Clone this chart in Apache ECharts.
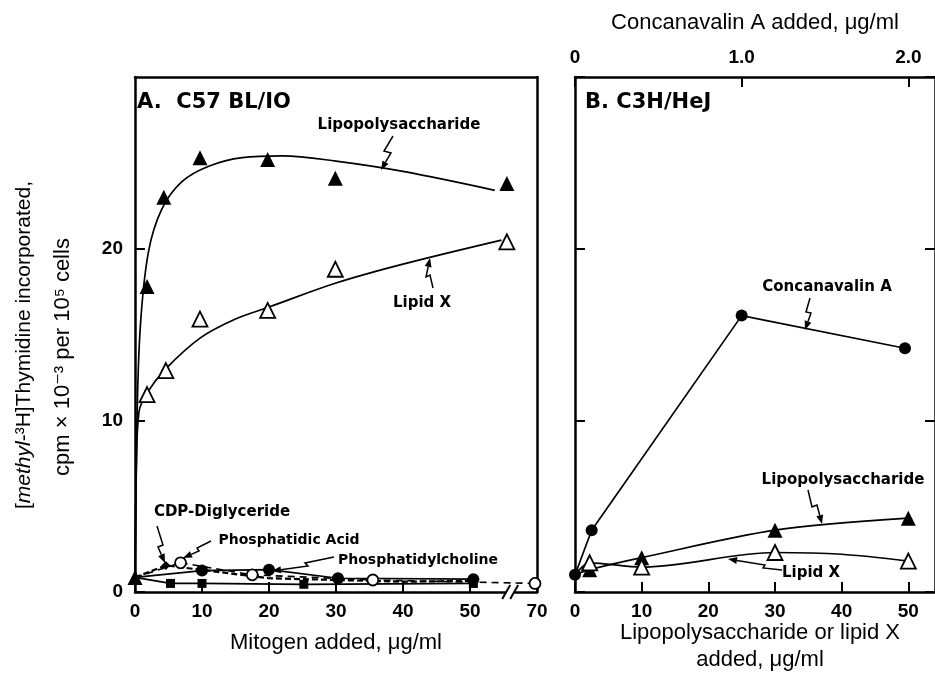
<!DOCTYPE html>
<html>
<head>
<meta charset="utf-8">
<script src="https://cdn.jsdelivr.net/npm/echarts/dist/echarts.min.js"></script>
<style>
  html, body { margin: 0; padding: 0; background: #fff; }
  #chart { width: 935px; height: 683px; }
</style>
</head>
<body>
<div id="chart"></div>
<script>
// panel A (C57 BL/10), x in ug/ml as plotted (the "70" point sits past the axis break)
var aLpsPts = [[0, 0.85], [1.8, 17.8], [4.3, 23.0], [9.7, 25.3], [19.8, 25.2], [29.9, 24.1], [55.5, 23.8]];
var aLpsCurve = [[0, 0.85], [0.3, 10], [0.8, 15.5], [2, 19.8], [4, 22.3], [7, 23.9], [11, 24.8], [16, 25.3],
  [22, 25.4], [30, 25.1], [40, 24.5], [53.7, 23.4]];
var aLipidXPts = [[1.8, 11.5], [4.6, 12.9], [9.7, 15.9], [19.8, 16.4], [29.9, 18.8], [55.5, 20.4]];
var aLipidXCurve = [[0, 0.85], [0.2, 7], [0.6, 10.5], [1.8, 11.6], [4.6, 13.0], [9.75, 14.8], [15, 15.9],
  [20, 16.6], [30, 18.0], [40, 19.1], [54.7, 20.5]];
var aPaPts = [[0, 0.85], [6.8, 1.7], [17.5, 1.0], [35.5, 0.7], [59.7, 0.5]];
var aPcPts = [[0, 0.85], [10, 1.25], [20, 1.3], [30.3, 0.8], [50.5, 0.75]];
var aCdpLine = [[0, 0.85], [4.6, 1.55], [20, 0.8], [40, 0.6], [50.5, 0.65]];
var aCdpMarks = [[4.6, 1.55]];
var aSqPts = [[0, 0.85], [5.3, 0.5], [10, 0.5], [25.2, 0.45], [50.5, 0.5]];

// panel B (C3H/HeJ)
var bConAPts = [[0, 1.0], [0.1, 3.6], [1.0, 16.1], [1.98, 14.2]];   // top axis, ug/ml
var bLpsPts = [[2.2, 1.3], [10, 2.0], [30, 3.6], [50, 4.3]];
var bLpsLine = [[0, 1.0], [2.2, 1.3], [10, 2.0], [30, 3.6], [50, 4.3]];
var bLipidXPts = [[2.2, 1.7], [10, 1.45], [30, 2.3], [50, 1.8]];
var bLipidXLine = [[0, 1.0], [2.2, 1.7], [10, 1.45], [30, 2.3], [40, 2.2], [50, 1.8]];

var yTicks = [0, 10, 20];
var aXTickLabels = { 0: '0', 10: '10', 20: '20', 30: '30', 40: '40', 50: '50', 60: '70' };

var FONT = 'Liberation Sans, DejaVu Sans, sans-serif';
var INK = '#000';
var B_MAX = 54;

var chart = echarts.init(document.getElementById('chart'));

function axisLine() {
  return { show: true, onZero: false, lineStyle: { color: INK, width: 2.5 } };
}
function ticks(show) {
  return { show: show, inside: true, length: 10, lineStyle: { color: INK, width: 2 } };
}
var tickLabel = { color: INK, fontSize: 19, fontFamily: FONT, fontWeight: 'bold' };
var nameStyle = { color: INK, fontSize: 22, fontFamily: FONT };

function lineS(name, xi, yi, data, opts) {
  return Object.assign({
    name: name, type: 'line', xAxisIndex: xi, yAxisIndex: yi, data: data,
    symbol: 'none', lineStyle: { color: INK, width: 1.7 }, z: 2, silent: true
  }, opts || {});
}
function dots(name, xi, yi, data, symbol, size, hollow) {
  return {
    name: name, type: 'scatter', xAxisIndex: xi, yAxisIndex: yi, data: data,
    symbol: symbol, symbolSize: size, z: 5, silent: true,
    itemStyle: hollow ? { color: '#fff', borderColor: INK, borderWidth: 1.8, opacity: 1 } : { color: INK, opacity: 1 }
  };
}

var option = {
  animation: false,
  backgroundColor: '#fff',
  grid: [
    { left: 135, top: 77, width: 402, height: 515 },
    { left: 575, top: 77, width: 364, height: 515 }
  ],
  xAxis: [
    { gridIndex: 0, type: 'value', min: 0, max: 60, interval: 10, position: 'bottom',
      axisLine: axisLine(), axisTick: ticks(true), splitLine: { show: false },
      axisLabel: Object.assign({ margin: 10, showMaxLabel: true,
        formatter: function (v) { return aXTickLabels[v] || ''; } }, tickLabel),
      name: 'Mitogen added, \u03bcg/ml', nameLocation: 'middle', nameGap: 40, nameTextStyle: nameStyle },
    { gridIndex: 0, type: 'value', min: 0, max: 60, position: 'top',
      axisLine: axisLine(), axisTick: { show: false }, axisLabel: { show: false }, splitLine: { show: false } },
    { gridIndex: 1, type: 'value', min: 0, max: B_MAX, interval: 10, position: 'bottom',
      axisLine: axisLine(), axisTick: ticks(true), splitLine: { show: false },
      axisLabel: Object.assign({ margin: 10, showMaxLabel: false }, tickLabel),
      name: 'Lipopolysaccharide or lipid X\nadded, \u03bcg/ml', nameLocation: 'middle', nameGap: 27,
      nameMoveOverlap: false,
      nameTextStyle: Object.assign({ lineHeight: 27, verticalAlign: 'top', padding: [0, 0, 0, 10] }, nameStyle) },
    { gridIndex: 1, type: 'value', min: 0, max: B_MAX / 25, interval: 1, position: 'top',
      axisLine: axisLine(), axisTick: ticks(true), splitLine: { show: false },
      axisLabel: Object.assign({ margin: 10, showMaxLabel: false,
        formatter: function (v) { return v === 0 ? '0' : v.toFixed(1); } }, tickLabel),
      name: 'Concanavalin A added, \u03bcg/ml', nameLocation: 'middle', nameGap: 43, nameTextStyle: nameStyle }
  ],
  yAxis: [
    { gridIndex: 0, type: 'value', min: 0, max: 30, interval: 10, position: 'left',
      axisLine: axisLine(), axisTick: ticks(true), splitLine: { show: false },
      axisLabel: Object.assign({ margin: 12, showMaxLabel: false,
        formatter: function (v) { return yTicks.indexOf(v) >= 0 ? String(v) : ''; } }, tickLabel) },
    { gridIndex: 0, type: 'value', min: 0, max: 30, position: 'right',
      axisLine: axisLine(), axisTick: { show: false }, axisLabel: { show: false }, splitLine: { show: false } },
    { gridIndex: 1, type: 'value', min: 0, max: 30, interval: 10, position: 'left',
      axisLine: axisLine(), axisTick: ticks(true), axisLabel: { show: false }, splitLine: { show: false } },
    { gridIndex: 1, type: 'value', min: 0, max: 30, interval: 10, position: 'right',
      axisLine: axisLine(), axisTick: ticks(true), axisLabel: { show: false }, splitLine: { show: false } }
  ],
  series: [
    lineS('LPS curve A', 0, 0, aLpsCurve, { smooth: 0.35 }),
    lineS('Lipid X curve A', 0, 0, aLipidXCurve, { smooth: 0.35 }),
    lineS('Phosphatidic Acid', 0, 0, aPaPts, { lineStyle: { color: INK, width: 1.6, type: [7, 5] } }),
    lineS('Phosphatidylcholine', 0, 0, aPcPts),
    lineS('CDP-Diglyceride', 0, 0, aCdpLine, { lineStyle: { color: INK, width: 2.2, type: [6, 3] } }),
    lineS('Squares', 0, 0, aSqPts),
    dots('LPS A', 0, 0, aLpsPts, 'triangle', 15, false),
    dots('Lipid X A', 0, 0, aLipidXPts, 'triangle', 15, true),
    dots('Phosphatidic Acid pts', 0, 0, aPaPts.slice(1), 'circle', 11, true),
    dots('Phosphatidylcholine pts', 0, 0, aPcPts.slice(1), 'circle', 12, false),
    dots('CDP-Diglyceride pts', 0, 0, aCdpMarks, 'diamond', 9, false),
    dots('Squares pts', 0, 0, aSqPts.slice(1), 'rect', 9, false),

    lineS('Concanavalin A', 3, 2, bConAPts),
    lineS('LPS line B', 2, 2, bLpsLine, { smooth: 0.3 }),
    lineS('Lipid X line B', 2, 2, bLipidXLine, { smooth: 0.3 }),
    dots('Concanavalin A pts', 3, 2, bConAPts, 'circle', 12, false),
    dots('LPS B', 2, 2, bLpsPts, 'triangle', 15, false),
    dots('Lipid X B', 2, 2, bLipidXPts, 'triangle', 15, true)
  ]
};
chart.setOption(option);

// annotations: labels and lightning-style pointer arrows
function label(text, x, y, size, weight, align) {
  return { type: 'text', x: x, y: y, z: 20, silent: true,
    style: { text: text, fill: INK, font: (weight || 'bold') + ' ' + (size || 15) + 'px DejaVu Sans, sans-serif',
      align: align || 'center', verticalAlign: 'middle' } };
}
function arrow(pts) {
  var n = pts.length, p = pts[n - 1], q = pts[n - 2];
  var ang = Math.atan2(p[1] - q[1], p[0] - q[0]);
  var L = 9, W = 3.5;
  var bx = p[0] - L * Math.cos(ang), by = p[1] - L * Math.sin(ang);
  var head = [p, [bx + W * Math.sin(ang), by - W * Math.cos(ang)], [bx - W * Math.sin(ang), by + W * Math.cos(ang)]];
  return [
    { type: 'polyline', z: 20, silent: true, shape: { points: pts.slice(0, n - 1).concat([[bx, by]]) },
      style: { stroke: INK, lineWidth: 1.5, fill: null } },
    { type: 'polygon', z: 20, silent: true, shape: { points: head }, style: { fill: INK } }
  ];
}

var g = [
  label('A.  C57 BL/IO', 137, 103, 21, 'bold', 'left'),
  label('B. C3H/HeJ', 585, 103, 21, 'bold', 'left'),
  label('Lipopolysaccharide', 399, 125, 15),
  label('Lipid X', 422, 303, 15),
  label('Concanavalin A', 827, 287, 15),
  label('Lipopolysaccharide', 843, 480, 15),
  label('Lipid X', 811, 573, 15),
  label('CDP-Diglyceride', 222, 512, 15),
  label('Phosphatidic Acid', 289, 540, 14),
  label('Phosphatidylcholine', 418, 560, 14),
  { type: 'text', x: 24, y: 345, rotation: Math.PI / 2, z: 20, silent: true,
    style: { text: '[{i|methyl}-\u00b3H]Thymidine incorporated,', fill: INK, align: 'center', verticalAlign: 'middle',
      font: '21px Liberation Sans, DejaVu Sans, sans-serif',
      rich: { i: { fontStyle: 'italic', fontSize: 21, fontFamily: 'Liberation Sans', fill: INK } } } },
  { type: 'text', x: 63, y: 357, rotation: Math.PI / 2, z: 20, silent: true,
    style: { text: 'cpm \u00d7 10\u207b\u00b3 per 10\u2075 cells', fill: INK, align: 'center', verticalAlign: 'middle',
      font: '22px Liberation Sans, DejaVu Sans, sans-serif' } }
];
[
  [[393, 136], [384, 151], [391, 153], [381, 170]],
  [[433, 288], [430, 275], [426, 277], [430, 258]],
  [[810, 298], [806, 312], [811, 313], [805, 330]],
  [[808, 490], [812, 507], [817, 505], [822, 524]],
  [[782, 570], [763, 568], [765, 565], [728, 559]],
  [[157, 526], [163, 545], [158, 547], [165, 563]],
  [[211, 541], [197, 548], [199, 551], [183, 558]],
  [[334, 557], [305, 563], [308, 566], [272, 571]]
].forEach(function (pts) { g = g.concat(arrow(pts)); });

// axis break on panel A's x axis, placed from the data scale
var brk = chart.convertToPixel({ xAxisIndex: 0, yAxisIndex: 0 }, [56, 0]);
g.push({ type: 'rect', z: 21, silent: true, shape: { x: brk[0] - 4, y: brk[1] - 4, width: 8, height: 8 }, style: { fill: '#fff' } });
[-4, 4].forEach(function (d) {
  g.push({ type: 'line', z: 22, silent: true,
    shape: { x1: brk[0] + d - 4, y1: brk[1] + 7, x2: brk[0] + d + 4, y2: brk[1] - 7 },
    style: { stroke: INK, lineWidth: 2 } });
});

chart.setOption({ graphic: g });
</script>
</body>
</html>
